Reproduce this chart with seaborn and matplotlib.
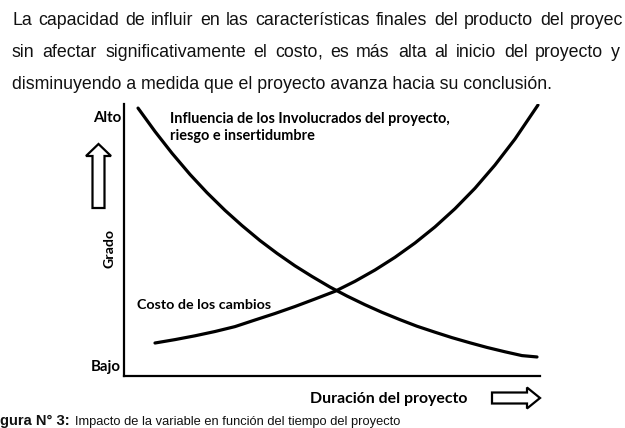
import matplotlib
matplotlib.use("Agg")
import matplotlib.pyplot as plt
import seaborn as sns
import pandas as pd
from matplotlib.patches import FancyArrow

sns.set_theme(style="white")
plt.rcParams['font.family'] = ['Liberation Sans', 'DejaVu Sans']

# ---- data (0-100 scale) ----
influence_x = [3.37, 7.45, 11.54, 15.87, 19.95, 24.28, 28.37, 32.69, 36.78, 41.11, 45.19, 49.52,
               53.61, 57.93, 62.02, 66.35, 70.43, 74.76, 78.85, 83.17, 87.26, 91.59, 95.67, 99.28]
influence_y = [98.5, 89.9, 81.9, 74.1, 67.4, 60.9, 55.3, 49.8, 45.1, 40.5, 36.6, 32.7,
               29.4, 26.2, 23.4, 20.7, 18.3, 16.1, 14.1, 12.2, 10.5, 8.9, 7.5, 7.0]
cost_x = [7.45, 12.26, 17.07, 21.88, 26.68, 31.49, 36.30, 41.11, 45.91, 50.72, 55.53, 60.34,
          65.14, 69.95, 74.76, 79.57, 84.38, 89.18, 93.99, 99.52]
cost_y = [12.13, 13.38, 14.78, 16.36, 18.16, 20.59, 22.98, 25.55, 28.31, 31.14, 34.82, 38.97,
          43.64, 48.90, 54.82, 61.51, 69.04, 77.57, 87.13, 99.63]

paragraph = [
    "La capacidad de influir en las características finales del producto del proyec",
    "sin afectar significativamente el costo, es más alta al inicio del proyecto y",
    "disminuyendo a medida que el proyecto avanza hacia su conclusión.",
]
influence_label = ["Influencia de los Involucrados del proyecto,", "riesgo e insertidumbre"]
cost_label = "Costo de los cambios"
x_label = "Duración del proyecto"
y_label = "Grado"
y_high, y_low = "Alto", "Bajo"
caption_bold = "gura N° 3:"
caption_rest = "Impacto de la variable en función del tiempo del proyecto"

W, H = 625, 428
fig = plt.figure(figsize=(W / 100, H / 100), dpi=100)
fig.patch.set_facecolor("white")

# main axes in pixel geometry: left 124, right 540, top 104, bottom 376
L, R, T, B = 124, 540, 104, 376
ax = fig.add_axes([L / W, (H - B) / H, (R - L) / W, (B - T) / H])
df_inf = pd.DataFrame({"x": influence_x, "y": influence_y})
df_cost = pd.DataFrame({"x": cost_x, "y": cost_y})
sns.lineplot(data=df_inf, x="x", y="y", ax=ax, color="black", linewidth=2.3, sort=False)
sns.lineplot(data=df_cost, x="x", y="y", ax=ax, color="black", linewidth=2.3, sort=False)
ax.set_xlim(0, 100)
ax.set_ylim(0, 100)
ax.set_xticks([])
ax.set_yticks([])
ax.set_xlabel("")
ax.set_ylabel("")
for s in ["top", "right"]:
    ax.spines[s].set_visible(False)
for s in ["left", "bottom"]:
    ax.spines[s].set_color("black")
    ax.spines[s].set_linewidth(1.6)
ax.set_facecolor("none")

# overlay axes in pixel coordinates
ov = fig.add_axes([0, 0, 1, 1], facecolor="none")
ov.set_xlim(0, W)
ov.set_ylim(H, 0)
ov.axis("off")

para_kw = dict(fontsize=12.8, color="#111111", va="baseline", ha="left",
               family=["Liberation Sans", "DejaVu Sans"])
ov.text(12, 89, paragraph[2], **para_kw)

fig.canvas.draw()
r = fig.canvas.get_renderer()


def justify(line, y, x0, x1):
    words = line.split(" ")
    pieces = []
    for w in words:
        if w.endswith(",") and len(w) > 1:
            core = ov.text(0, y, w[:-1], **para_kw)
            comma = ov.text(0, y, ",", **para_kw)
            cw = core.get_window_extent(r).width
            full = ov.text(0, y, w, **para_kw)
            fw = full.get_window_extent(r).width
            full.remove()
            pieces.append((core, comma, cw, fw))
        else:
            t = ov.text(0, y, w, **para_kw)
            pieces.append((t, None, None, t.get_window_extent(r).width))
    total = sum(p[3] for p in pieces)
    gap = (x1 - x0 - total) / (len(pieces) - 1)
    xp = x0
    for t, comma, cw, wd in pieces:
        t.set_x(round(xp))
        if comma is not None:
            comma.set_x(round(xp) + cw)
        xp += wd + gap


justify(paragraph[0], 25, 12, 623)
justify(paragraph[1], 57, 12, 620)

lab_kw = dict(fontweight="bold", color="black", va="baseline", family=["Lato", "DejaVu Sans"])
ov.text(170, 123, influence_label[0], fontsize=10.45, ha="left", **lab_kw)
ov.text(170, 140, influence_label[1], fontsize=10.45, ha="left", **lab_kw)
ov.text(137, 309, cost_label, fontsize=10.3, ha="left", **lab_kw)
ov.text(310, 403, x_label, fontsize=11.45, ha="left", **lab_kw)
ov.text(121, 122, y_high, fontsize=10.8, ha="right", **lab_kw)
ov.text(121, 371, y_low, fontsize=10.8, ha="right", **lab_kw)
ov.text(110, 248, y_label, fontsize=10.2, rotation=90, ha="center", va="center",
        fontweight="bold", color="black", family=["Lato", "DejaVu Sans"])

# hollow arrows
ov.add_patch(FancyArrow(98.5, 208, 0, -64, width=12, head_width=25, head_length=12,
                        length_includes_head=True, facecolor="white", edgecolor="black", linewidth=1.6))
ov.add_patch(FancyArrow(492, 398, 48, 0, width=11, head_width=21, head_length=13,
                        length_includes_head=True, facecolor="white", edgecolor="black", linewidth=1.6))

# caption
cap_kw = dict(color="#111111", va="baseline", ha="left", family=["Liberation Sans", "DejaVu Sans"])
ov.text(0, 425, caption_bold, fontweight="bold", fontsize=10.6, **cap_kw)
ov.text(75, 425, caption_rest, fontsize=9.3, **cap_kw)

fig.savefig("out.png", dpi=100, facecolor="white")
